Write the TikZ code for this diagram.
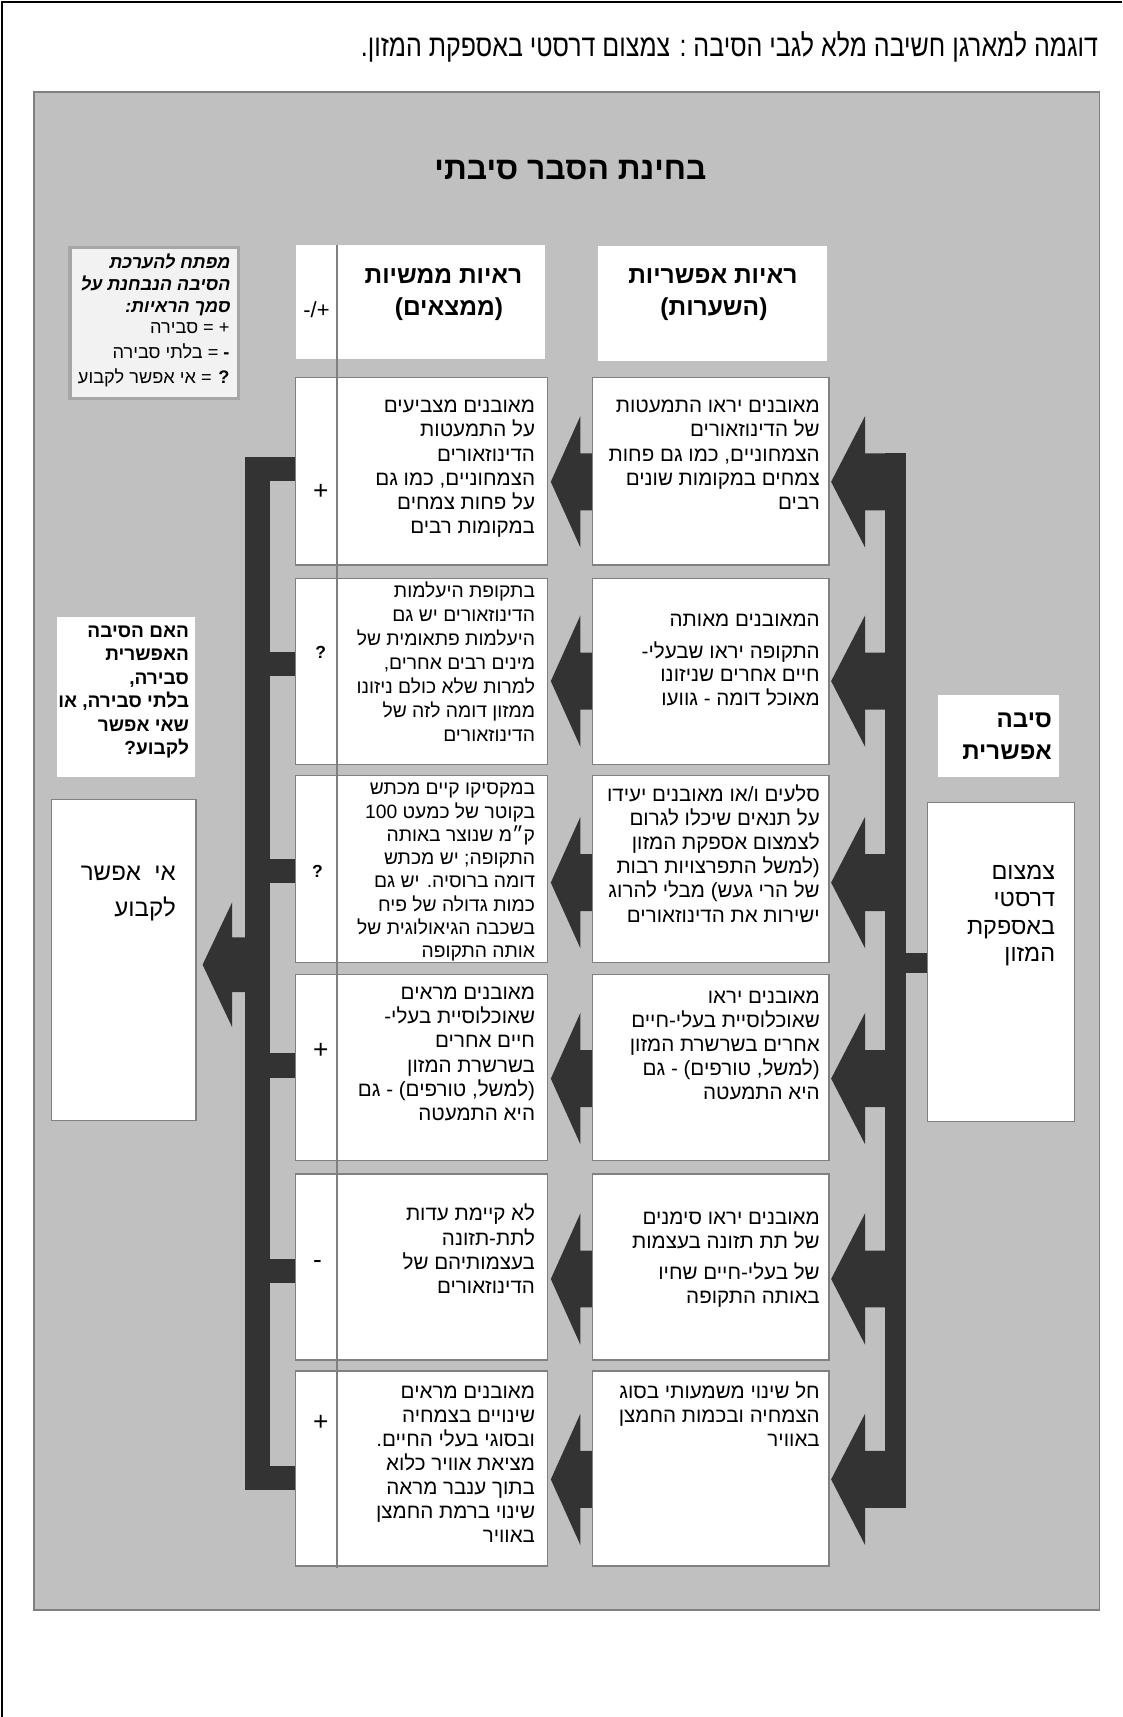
\documentclass[tikz,border=0pt]{standalone}
\usepackage{fontspec}
\setmainfont{Liberation Sans}
\newfontfamily\heb[Script=Hebrew]{Liberation Sans}
\newfontfamily\hebn[Script=Hebrew,FakeStretch=0.815]{Liberation Sans}
\newfontfamily\hebkey[Script=Hebrew,FakeSlant=0.2]{Liberation Sans Bold}
\TeXXeTstate=1
\newcommand{\hR}[1]{\beginR #1\endR}
\definecolor{panel}{HTML}{C0C0C0}
\definecolor{bord}{HTML}{808080}
\definecolor{arr}{HTML}{333333}
\definecolor{keyfill}{HTML}{F2F2F2}
\definecolor{keybord}{HTML}{A6A6A6}
\newcommand\mkbox[6]{\node[#2, minimum width={(#5-#3)*0.5pt}, minimum height={(#6-#4)*0.5pt}] (#1) at ({(#3+#5)/2},{(#4+#6)/2}) {};}
\newcommand\fatarrow[6]{\fill[arr] (#1,#2) -- (#3,{#2-#5}) -- (#3,{#2-#6}) -- (#4,{#2-#6}) -- (#4,{#2+#6}) -- (#3,{#2+#6}) -- (#3,{#2+#5}) -- cycle;}
% #1 style, #2 name, #3 right x, #4 first baseline y, #5 spacing, #6 lines (each {\hR{...}})
\newcommand\textlines[6]{\foreach \s [count=\i from 0] in {#6} {\node[#1, anchor=base east, inner sep=0pt] (#2-\i) at (#3,{#4+\i*#5}) {\s};}}
\begin{document}
\begin{tikzpicture}[x=0.5pt,y=-0.5pt,
  box/.style={draw=bord, line width=0.6pt, fill=white, inner sep=0pt, shape=rectangle},
  plainbox/.style={fill=white, inner sep=0pt, shape=rectangle},
  keybox/.style={draw=keybord, line width=1.5pt, fill=keyfill, inner sep=0pt, shape=rectangle},
  body/.style={font={\heb\fontsize{9.4}{11}\selectfont}},
  bodys/.style={font={\heb\fontsize{8.8}{10.5}\selectfont}},
  hdr/.style={inner sep=0pt, anchor=base, font={\heb\bfseries\fontsize{11.2}{14}\selectfont}},
  sign/.style={inner sep=0pt, font={\fontsize{12}{14}\selectfont}},
  qsign/.style={inner sep=0pt, font={\bfseries\fontsize{8}{10}\selectfont}}]
\useasboundingbox (0,0) rectangle (1025,1568);
\draw[line width=1pt] (1025,2) -- (2,2) -- (2,1568);
\draw[fill=panel, draw=bord, line width=0.8pt] (31,84) rectangle (1004,1470);

% top caption and title
\node[anchor=base east, inner sep=0pt, font={\hebn\fontsize{14}{16}\selectfont}] (caption) at (1003,52) {\hR{דוגמה למארגן חשיבה מלא לגבי הסיבה : צמצום דרסטי באספקת המזון.}};
\node[anchor=base, inner sep=0pt, font={\heb\bfseries\fontsize{14.5}{16}\selectfont}] (title) at (521,164) {\hR{בחינת הסבר סיבתי}};

% buses and arrows
\fill[arr] (808,414) rectangle (827,1377);
\fill[arr] (827,870) rectangle (848,889);
\fill[arr] (224,417) rectangle (247,1361);
\foreach \c in {428,606,795,973,1161,1350} {\fill[arr] (246,{\c-11}) rectangle (271,{\c+11});}
\fatarrow{185}{881}{212}{225}{57}{25}
\foreach \t in {440,622,806,985,1168,1351} {
  \fatarrow{503}{\t}{530}{542}{60}{26}
  \fatarrow{759}{\t}{790}{809}{60}{26}
}

% header boxes
\mkbox{HL}{plainbox}{270}{224}{498}{328}
\mkbox{HR}{plainbox}{546}{225}{755}{330}
\node[hdr] (hlt1) at (405,259) {\hR{ראיות ממשיות}};
\node[hdr] (hlt2) at (410,288) {\hR{(ממצאים)}};
\node[hdr] (hrt1) at (651,259) {\hR{ראיות אפשריות}};
\node[hdr] (hrt2) at (652,288) {\hR{(השערות)}};
\node[anchor=base, inner sep=0pt, font={\fontsize{10}{12}\selectfont}] (pm) at (289,290) {-/+};

% key box
\mkbox{KEY}{keybox}{64}{226}{218}{364}
\textlines{font={\hebkey\fontsize{8.2}{10}\selectfont}}{keyt}{210}{245}{20}{{\hR{מפתח להערכת}}, {\hR{הסיבה הנבחנת על}}, {\hR{סמך הראיות:}}}
\textlines{font={\heb\fontsize{8.3}{10}\selectfont}}{keyv}{210}{305}{22.5}{{\hR{+ = סבירה}}, {\hR{\textbf{-} = בלתי סבירה}}, {\hR{\textbf{?} = אי אפשר לקבוע}}}

% row boxes
\mkbox{L1}{box}{270}{345}{500}{516}   \mkbox{R1}{box}{541}{345}{757}{516}
\mkbox{L2}{box}{270}{528}{500}{698}   \mkbox{R2}{box}{541}{528}{757}{698}
\mkbox{L3}{box}{270}{708}{500}{879}   \mkbox{R3}{box}{541}{708}{757}{879}
\mkbox{L4}{box}{270}{890}{500}{1060}  \mkbox{R4}{box}{541}{890}{757}{1060}
\mkbox{L5}{box}{270}{1072}{500}{1242} \mkbox{R5}{box}{541}{1072}{757}{1242}
\mkbox{L6}{box}{270}{1252}{500}{1430} \mkbox{R6}{box}{541}{1252}{757}{1430}
\draw[bord, line width=0.9pt] (308,224) -- (308,1432);

% signs
\node[sign] (s1) at (293,449) {+};
\node[qsign] (s2) at (293,596) {?};
\node[qsign] (s3) at (290,796) {?};
\node[sign] (s4) at (293,960) {+};
\node[sign] (s5) at (290,1155) {-};
\node[sign] (s6) at (293,1299) {+};

% row texts
\textlines{body}{r1}{749}{377}{22}{{\hR{מאובנים יראו התמעטות}}, {\hR{של הדינוזאורים}}, {\hR{הצמחוניים, כמו גם פחות}}, {\hR{צמחים במקומות שונים}}, {\hR{רבים}}}
\textlines{body}{l1}{489}{377}{22}{{\hR{מאובנים מצביעים}}, {\hR{על התמעטות}}, {\hR{הדינוזאורים}}, {\hR{הצמחוניים, כמו גם}}, {\hR{על פחות צמחים}}, {\hR{במקומות רבים}}}

\textlines{body}{r2a}{749}{572}{22}{{\hR{המאובנים מאותה}}}
\textlines{body}{r2}{749}{601}{21.7}{{\hR{התקופה יראו שבעלי-}}, {\hR{חיים אחרים שניזונו}}, {\hR{מאוכל דומה - גוועו}}}
\textlines{bodys}{l2}{489}{546}{21.8}{{\hR{בתקופת היעלמות}}, {\hR{הדינוזאורים יש גם}}, {\hR{היעלמות פתאומית של}}, {\hR{מינים רבים אחרים,}}, {\hR{למרות שלא כולם ניזונו}}, {\hR{ממזון דומה לזה של}}, {\hR{הדינוזאורים}}}

\textlines{body}{r3}{749}{732}{22}{{\hR{סלעים ו/או מאובנים יעידו}}, {\hR{על תנאים שיכלו לגרום}}, {\hR{לצמצום אספקת המזון}}, {\hR{(למשל התפרצויות רבות}}, {\hR{של הרי געש) מבלי להרוג}}, {\hR{ישירות את הדינוזאורים}}}
\textlines{bodys}{l3}{489}{726}{21.2}{{\hR{במקסיקו קיים מכתש}}, {\hR{בקוטר של כמעט 100}}, {\hR{ק״מ שנוצר באותה}}, {\hR{התקופה; יש מכתש}}, {\hR{דומה ברוסיה. יש גם}}, {\hR{כמות גדולה של פיח}}, {\hR{בשכבה הגיאולוגית של}}, {\hR{אותה התקופה}}}

\textlines{body}{r4}{749}{916}{22}{{\hR{מאובנים יראו}}, {\hR{שאוכלוסיית בעלי-חיים}}, {\hR{אחרים בשרשרת המזון}}, {\hR{(למשל, טורפים) - גם}}, {\hR{היא התמעטה}}}
\textlines{body}{l4}{489}{913}{22}{{\hR{מאובנים מראים}}, {\hR{שאוכלוסיית בעלי-}}, {\hR{חיים אחרים}}, {\hR{בשרשרת המזון}}, {\hR{(למשל, טורפים) - גם}}, {\hR{היא התמעטה}}}

\textlines{body}{r5a}{749}{1118}{22}{{\hR{מאובנים יראו סימנים}}, {\hR{של תת תזונה בעצמות}}}
\textlines{body}{r5b}{749}{1168}{22}{{\hR{של בעלי-חיים שחיו}}, {\hR{באותה התקופה}}}
\textlines{body}{l5}{489}{1115}{22}{{\hR{לא קיימת עדות}}, {\hR{לתת-תזונה}}, {\hR{בעצמותיהם של}}, {\hR{הדינוזאורים}}}

\textlines{body}{r6}{749}{1277}{22}{{\hR{חל שינוי משמעותי בסוג}}, {\hR{הצמחיה ובכמות החמצן}}, {\hR{באוויר}}}
\textlines{body}{l6}{489}{1277}{22}{{\hR{מאובנים מראים}}, {\hR{שינויים בצמחיה}}, {\hR{ובסוגי בעלי החיים.}}, {\hR{מציאת אוויר כלוא}}, {\hR{בתוך ענבר מראה}}, {\hR{שינוי ברמת החמצן}}, {\hR{באוויר}}}

% cause side
\mkbox{CT}{plainbox}{857}{635}{967}{710}
\textlines{font={\heb\bfseries\fontsize{11}{14}\selectfont}}{ct}{961}{664}{30}{{\hR{סיבה}}, {\hR{אפשרית}}}
\mkbox{CB}{box}{847}{733}{981}{1024}
\textlines{font={\heb\fontsize{10.7}{12.5}\selectfont}}{cb}{964}{803}{25}{{\hR{צמצום}}, {\hR{דרסטי}}, {\hR{באספקת}}, {\hR{המזון}}}

% result side
\mkbox{Q}{plainbox}{52}{563}{178}{710}
\textlines{font={\heb\bfseries\fontsize{8.7}{10}\selectfont}}{q}{173}{582}{21.4}{{\hR{האם הסיבה}}, {\hR{האפשרית}}, {\hR{סבירה,}}, {\hR{בלתי סבירה, או}}, {\hR{שאי אפשר}}, {\hR{לקבוע?}}}
\mkbox{RES}{box}{47}{730}{179}{1023}
\textlines{font={\heb\fontsize{11}{14}\selectfont}}{res}{161}{804}{33}{{\hR{אי\ \ אפשר}}, {\hR{לקבוע}}}
\end{tikzpicture}
\end{document}
